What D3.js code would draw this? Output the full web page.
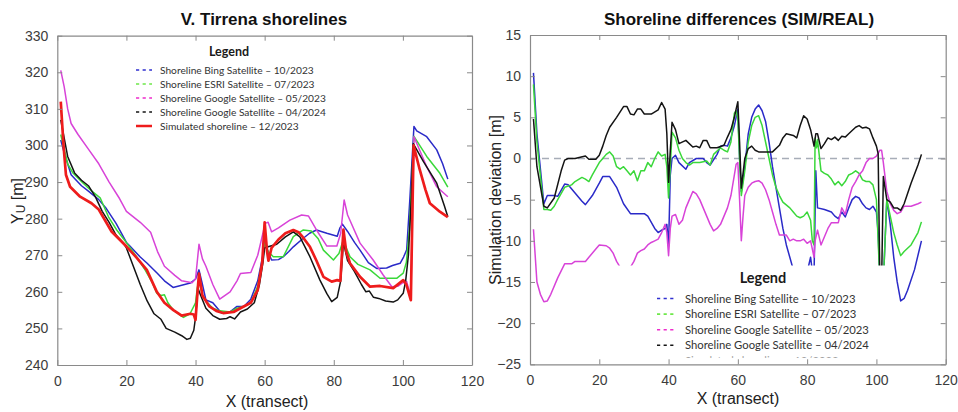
<!DOCTYPE html>
<html>
<head>
<meta charset="utf-8">
<script src="https://cdn.jsdelivr.net/npm/d3@7"></script>
<style>
  html, body { margin: 0; padding: 0; background: #fff; }
  svg { display: block; font-family: "Liberation Sans", Arial, sans-serif; }
</style>
</head>
<body>
<svg id="fig" width="958" height="412"></svg>
<script>
// ---------- shoreline positions Yu [m] along transects ----------
const bingShore = [[1,301.5],[2,298],[4,292],[5,291],[7,289],[9,287.5],[12,285.2],[14,283],[17,278.7],[20,273.5],[21,272.5],[24,269.5],[26,267.8],[29,265],[31,263],[33.5,261.2],[36,261.8],[38.5,262.4],[40,263.5],[41,266],[42,262],[43,257.8],[45,257],[47.5,254.2],[50,254.5],[52,256],[54,256],[56,258],[58,263],[59.5,270],[60,274],[60.6,271.9],[62,268.7],[64,268.8],[65.4,269.6],[67,271],[68.3,272.3],[71,274.5],[73,276],[75,276.9],[78,276],[81,275.2],[81.8,277.5],[82.5,278.5],[84,276.5],[86,273.5],[87.6,271.4],[90,268],[92.4,266.4],[95.3,266.5],[97,267.2],[99.2,267.8],[100.2,269.5],[101.1,271.5],[102,285],[103.2,305.2],[104,304],[106.9,302.4],[109.8,298.8],[111.5,295],[113,290.8]];
const esriShore = [[1,303],[2,299],[3,295],[4.6,292.4],[7.5,289.7],[10,287.5],[12.4,285.7],[14.8,280.5],[17.2,276.9],[20.1,273.3],[23,269.5],[25.4,266],[27.5,262.5],[28.8,259.6],[30,259],[31,259.2],[32,257],[33.6,255],[35,254],[36.5,253],[38.4,254],[40,257],[40.5,261],[41,263.2],[42,259],[43,257.5],[45,255.5],[47,254.8],[50,254.5],[52,255.5],[54,256],[56,257],[58,261.5],[59.5,269],[60,273.5],[61,271],[62.5,269.6],[65.4,269.6],[68.3,275.1],[71.2,276.9],[73.5,276.6],[75.5,274.5],[77,271.4],[79.9,268.7],[81.5,270.5],[82.7,274],[84.7,269.6],[87,267.5],[90.5,266],[93.4,263.7],[98.2,263.7],[100.1,265.1],[101,268],[101.9,277],[103.2,302.5],[106.9,297],[110.7,292.4],[113,288.6]];
const google2305Shore = [[1,320.5],[2,316],[3,310],[4,306],[6,303],[9,299],[12,295],[15,290],[18,285.5],[20,282],[24,279],[27,276.3],[29,271],[31,267],[34,264.5],[36,263],[39,262.5],[40,263.5],[41,273],[42,269],[43,267],[45,262],[47,258],[50,260],[52,263],[53,265],[56,265.3],[58,270],[59.5,276],[60.1,278.7],[61,279],[62,276.4],[64,277.5],[67.3,279.6],[70.7,281],[72.7,280.7],[75,276.9],[78,272.5],[80.9,272.5],[82,276],[83,285.1],[84,281],[87.6,273.3],[91.4,268.7],[94.3,264.6],[96.8,261.4],[98.5,261.5],[100,262.5],[101.1,262.8],[102.3,258.7],[103.2,302.4],[106.9,294.2],[109.8,288.7],[113,286]];
const google2404Shore = [[1,307],[2,302],[3,297],[5,292.5],[7,290.5],[9,289],[11,286],[13,282],[15,279],[17,275.5],[19,273.5],[20,272],[22,267],[24,262],[26,257.5],[28,254],[30,252.5],[31.5,250],[34,249],[36,248],[37.5,247],[38.5,247.3],[39.5,249.5],[40,253],[40.7,261],[41.5,259],[43,255.5],[45,253.5],[47,252.5],[49,252.7],[50,253.2],[51.3,252.6],[53,254.5],[55,255.3],[57,257],[58.5,262],[59.5,268],[60,272],[61,272.3],[63.5,273],[66,275],[68.3,276.4],[70.2,275],[73.1,269.6],[76,263.2],[78,259.5],[79.4,257.3],[81,258.5],[82,263],[82.8,273.5],[84,268.5],[86,265.5],[88,262],[89.3,260],[90.3,260.2],[91.5,258.5],[93,258.2],[95,257.5],[97.2,257.2],[98.5,257.8],[100.1,259.6],[100.8,263],[101.6,270],[102.4,285],[103,300.5],[106,295.5],[109.8,289.7],[112,283.5],[113,280.5]];
const simulatedShore = [[1,312],[1.8,300],[2.5,292],[3.7,288.7],[6.6,286],[9.9,284.2],[12,282.5],[15.7,276.5],[20.1,272.3],[23,269.3],[25.9,266],[28.8,260],[31,257],[33.6,255],[36,253.5],[38.5,254],[39.5,253.8],[40,252.3],[40.5,259],[41,265],[42,259],[44,256],[46,254.8],[48,254.2],[51,254.5],[53,255.5],[56,257],[58,260.5],[59.3,268],[60,279],[60.7,271],[61.1,268.5],[62,272],[64,274.3],[66,276],[68.3,276.9],[69.8,276.3],[71,275],[73.1,272.3],[75,268.5],[77,264.1],[79.4,262.8],[81,263.2],[81.9,263],[82.8,277],[83.6,271],[84.7,267.8],[87.6,264.1],[90.5,261.4],[93.4,261.6],[97.2,261],[100.1,263.2],[101,262],[102.3,257.7],[103.1,300],[104.9,293.3],[106.5,288],[107.8,284.2],[110.7,281.9],[113,280.4]];

// ---------- simulated minus observed [m] ----------
const bingDiff = [[1,10.4],[2,3],[4,-5.5],[5,-4.5],[7,-4.5],[8,-4.6],[10,-3.1],[11,-3.2],[13,-4.2],[15,-5.2],[16,-5.6],[18,-4.5],[20,-3],[21,-2.2],[23,-2.2],[25,-3.5],[27,-5.5],[29,-6.7],[31,-6.7],[33,-6.7],[34,-7],[36,-8.5],[37,-9],[38,-8.7],[39,-8.5],[39.5,-8],[40,-10.6],[40.5,-2],[41,0],[42,0.4],[43,-0.5],[45,-1.3],[46,-0.5],[48,0],[50,0],[51,-0.5],[52,-0.8],[54,0.5],[55,1.5],[56,1.6],[57,1.5],[58,2.5],[59,4],[60,6],[60.5,0],[61,-4],[62,-1],[63,3],[64,5],[65,6],[66,6.5],[67,5.8],[68,4.5],[69,2],[70,-1],[71,-3.5],[72,-6],[73,-8.5],[74,-10.5],[75,-12],[76,-13.5],[78,-14],[80,-13.8],[81,-12],[81.6,-14],[82,-14],[82.5,-1.5],[83,-6],[85,-6.2],[87,-6.5],[88,-7],[89,-7.3],[90,-6.5],[91,-7.1],[92,-6],[93,-5],[94,-4.6],[95,-4.8],[96,-5.5],[97,-6],[98,-6.2],[99,-5.8],[100,-6.5],[100.5,-9],[101,-15],[102,-15],[102.5,-10],[103,-5],[104,-8],[105,-12],[106,-15],[107,-17.3],[108,-17],[109,-16],[111,-13.5],[113,-10]];
const esriDiff = [[1,9],[2,2],[4,-6.2],[5,-6.2],[6,-6.3],[7,-5.8],[8,-5],[10,-3.5],[12,-3.2],[13,-2.8],[15,-2.3],[16,-2.5],[17,-2.8],[18,-2],[20,-0.5],[21,0],[22,0.5],[23,0.8],[24,0.3],[25,-1],[26,-1.3],[27,-1],[28,-1.5],[29,-2],[30,-1.5],[31,-2.7],[32,-1.5],[33,-1.5],[34,-0.5],[35,-1],[36,0],[37,0.8],[38,0.3],[39,0.5],[39.5,-1],[40,-4.8],[40.5,-1],[41,3.2],[42,2.5],[43,1],[44,0],[45,-0.5],[46,-0.8],[47,-0.5],[49,-0.5],[51,-0.3],[52,-0.8],[53,0.5],[55,1.3],[56,1],[57,0.8],[58,2],[59,5.5],[59.5,5.8],[60,4.8],[60.5,0],[61,-4.5],[62,-1.5],[63,2],[64,4],[65,5],[66,5.2],[67,4],[68,2],[69,0],[70,-2],[71,-3.5],[72,-4.5],[73,-5.3],[75,-6],[76,-6.5],[77,-7],[78,-7.2],[79,-7],[80,-6.5],[81,-7.5],[81.5,-10],[82,-10.5],[82.3,2.5],[82.7,1.3],[83,2.3],[84,-1.5],[85,-1.8],[86,-2],[87,-2.5],[88,-3.2],[89,-2.8],[90,-3.3],[91,-2.8],[92,-2],[93,-1.8],[94,-1.5],[95,-1.8],[96,-2.6],[97,-2.8],[98,-2.8],[99,-3.2],[100,-5],[100.5,-10],[101,-15],[102,-15],[102.5,-10],[103,-5],[104,-7],[105,-9],[106,-10.5],[107,-11.8],[108,-11.3],[110,-10.5],[112,-9],[113,-7.7]];
const google2305Diff = [[1,-8.6],[2,-15],[3,-16.5],[4,-17.4],[5,-17.3],[6,-16.5],[8,-14.5],[10,-12.8],[12,-12.8],[13,-12.5],[15,-12.5],[16,-12.5],[17,-12],[19,-11],[20,-10.5],[22,-10.6],[23,-10.9],[24,-11.5],[25,-12.5],[26,-13.2],[27,-14],[28,-14],[29,-13.2],[30,-12.5],[31,-11.5],[32,-11.2],[33,-11],[34,-10.5],[35,-10.2],[36,-10],[37,-9.8],[38,-9],[38.5,-8.5],[39,-8],[39.5,-9],[40,-11.8],[40.5,-8.5],[41,-7],[42,-6.8],[43,-8],[44,-7.5],[45,-6],[46,-5],[47,-4],[48,-4.3],[49,-5],[50,-6],[51,-7],[52,-8],[53,-8.8],[54,-8.5],[55,-8],[56,-7],[57,-6],[58,-4.5],[59,-2],[59.5,-0.7],[60,-0.5],[60.5,-5],[61,-10],[61.5,-7],[62,-4.5],[63,-3.5],[64,-3],[65,-2.8],[66,-2.7],[67,-3],[68,-3.8],[69,-5],[70,-6.5],[71,-8],[72,-9.3],[74,-9.3],[75,-10],[76,-9.8],[77,-10],[78,-10],[79,-9.8],[80,-10.3],[81,-10],[82,-12],[82.3,-10],[83,-8.7],[84,-10.5],[85,-9.5],[86,-8.5],[87,-7.8],[89,-7.8],[90,-6],[91,-6.8],[92,-5],[93,-3.5],[94,-2.8],[95,-2],[96,-1.5],[97,-0.5],[98,0],[99,0],[100,0.3],[101,1],[101.5,1],[102,-0.5],[103,-4],[104,-5.5],[105,-6.3],[106,-6.7],[107,-6.5],[108,-5.8],[110,-5.8],[112,-5.5],[113,-5.3]];
const google2404Diff = [[1,4.8],[2,-1],[4,-5.8],[5,-6],[7,-4.8],[9,-1.5],[10,-0.2],[11,0],[13,0],[16,0.3],[17,-0.1],[19,-0.1],[20,0.4],[21,1.5],[22,2.8],[23,3.8],[25,5],[27,6.3],[28,6.3],[29,5.4],[30,5.3],[31,6],[32,6],[33,5.4],[35,5.4],[37,5.9],[38,6.8],[39,6],[39.5,3],[40,-2.9],[40.5,1],[41,4.4],[42,3.5],[43,1.8],[45,2.2],[47,1.4],[48,1.5],[49,1.3],[50,2.2],[51,2.2],[52,1.3],[54,1.3],[56,1.6],[57,2.6],[58,3.5],[59,5],[59.5,6],[60,6.9],[60.5,2],[61,-3.6],[62,0],[63,1.2],[64,1.5],[65,1],[66,0.8],[68,0.8],[70,0.8],[72,1.6],[73,2.5],[74,3],[76,2.8],[77,2.5],[78,4],[79,5.2],[80,4.8],[81,3.5],[82,1.5],[82.5,3],[83,3],[84,1.2],[85,1.8],[86,2.5],[87,2.3],[88,2.6],[89,2.2],[90,2.7],[91,2.6],[92,3],[94,3.8],[95,4],[96,3.7],[97,3.8],[98,3.6],[99,2.5],[100,1.5],[100.5,0.6],[101,-15],[101.5,-15],[102,-2.2],[103,-5],[104,-5.3],[105,-6],[106,-6],[107,-6.3],[108,-5.5],[110,-3],[112,-0.8],[113,0.5]];

// ---------- axes and labels ----------
const xTicks = [0, 20, 40, 60, 80, 100, 120];
const shoreTicks = [240, 250, 260, 270, 280, 290, 300, 310, 320, 330];
const diffTicks = [-25, -20, -15, -10, -5, 0, 5, 10, 15];
const seriesNames = [
  "Shoreline Bing Satellite \u2013 10/2023",
  "Shoreline ESRI Satellite \u2013 07/2023",
  "Shoreline Google Satellite \u2013 05/2023",
  "Shoreline Google Satellite \u2013 04/2024",
  "Simulated shoreline \u2013 12/2023"
];
const seriesColors = ["#2a2ac8", "#3ad83a", "#d843d8", "#141414", "#ee1c1c"];
const legendColors = ["#3030d0", "#6ee84a", "#ee2ccc", "#141414", "#ee1c1c"];

const svg = d3.select("#fig");
svg.append("rect").attr("width", 958).attr("height", 412).attr("fill", "#fff");

const frameColor = "#8a8a8a";
const labelColor = "#3c3c3c";

function drawFrame(g, x, y, xt, yt) {
  const [x0, x1] = x.range();
  const [y0, y1] = y.range();
  const ax = [
    { a: d3.axisBottom(x).tickValues(xt).tickSize(-5).tickSizeOuter(0).tickPadding(11), t: `translate(0,${y0})` },
    { a: d3.axisTop(x).tickValues(xt).tickSize(-5).tickSizeOuter(0).tickFormat(""), t: `translate(0,${y1})` },
    { a: d3.axisLeft(y).tickValues(yt).tickSize(-5).tickSizeOuter(0).tickPadding(9), t: `translate(${x0},0)` },
    { a: d3.axisRight(y).tickValues(yt).tickSize(-5).tickSizeOuter(0).tickFormat(""), t: `translate(${x1},0)` }
  ];
  ax.forEach(d => {
    const ag = g.append("g").attr("transform", d.t).call(d.a);
    ag.select(".domain").attr("stroke", frameColor).attr("stroke-width", 1.2);
    ag.selectAll(".tick line").attr("stroke", frameColor).attr("stroke-width", 1);
    ag.selectAll(".tick text").attr("fill", labelColor)
      .style("font-size", "14px").style("font-family", "'Liberation Sans', Arial, sans-serif");
  });
}

function drawLegend(g, cx, titleY, firstRow, rowGap, sampleX, textX, fontSize, titleSize, dashed) {
  g.append("text").attr("x", cx).attr("y", titleY).attr("text-anchor", "middle")
    .style("font-family", "Lato, 'Liberation Sans', sans-serif")
    .style("font-weight", "bold").style("font-size", titleSize + "px").attr("fill", "#1a1a1a").text("Legend");
  seriesNames.forEach((name, i) => {
    const yy = firstRow + rowGap * i;
    const solid = !dashed[i];
    g.append("line").attr("x1", sampleX[0]).attr("x2", sampleX[1]).attr("y1", yy).attr("y2", yy)
      .attr("stroke", legendColors[i]).attr("stroke-width", solid ? 2.5 : 1.6)
      .attr("stroke-dasharray", solid ? null : "3.2,3.4");
    g.append("text").attr("x", textX).attr("y", yy + fontSize * 0.36)
      .style("font-family", "Lato, 'Liberation Sans', sans-serif")
      .style("font-size", fontSize + "px").attr("fill", "#333").text(name);
  });
}

// ================= left panel: shorelines =================
{
  const x = d3.scaleLinear().domain([0, 120]).range([57.3, 472]);
  const y = d3.scaleLinear().domain([240, 330]).range([365, 35.7]);
  const g = svg.append("g");
  const line = d3.line().x(d => x(d[0])).y(d => y(d[1]));

  const shoreSeries = [bingShore, esriShore, google2305Shore, google2404Shore, simulatedShore];
  shoreSeries.forEach((s, i) => {
    g.append("path").datum(s).attr("d", line).attr("fill", "none")
      .attr("stroke", seriesColors[i]).attr("stroke-width", i === 4 ? 2.7 : 1.5)
      .attr("stroke-linejoin", "round");
  });

  drawFrame(g, x, y, xTicks, shoreTicks);

  g.append("text").attr("x", 264).attr("y", 25).attr("text-anchor", "middle")
    .style("font-weight", "bold").style("font-size", "17px").attr("fill", "#111")
    .text("V. Tirrena shorelines");
  g.append("text").attr("x", 267).attr("y", 407).attr("text-anchor", "middle")
    .style("font-size", "16px").attr("fill", "#222").text("X (transect)");
  const yl = g.append("text").attr("transform", "translate(23,201) rotate(-90)")
    .attr("text-anchor", "middle").style("font-size", "16px").attr("fill", "#222");
  yl.append("tspan").text("Y");
  yl.append("tspan").attr("dy", 2).style("font-size", "12px").text("U");
  yl.append("tspan").attr("dy", -2).text(" [m]");

  drawLegend(g.append("g"), 229, 56, 70, 14, [136, 152], 160, 10.2, 12.5, [true, true, true, true, false]);
}

// ================= right panel: differences =================
{
  const x = d3.scaleLinear().domain([0, 120]).range([530, 945.7]);
  const y = d3.scaleLinear().domain([-25, 15]).range([364.3, 35]);
  const g = svg.append("g");
  const line = d3.line().x(d => x(d[0])).y(d => y(d[1]));

  // the legend panel is cut just above the lower frame, hiding most of its last row
  svg.append("defs").append("clipPath").attr("id", "diffClip")
    .append("rect").attr("x", x(0)).attr("y", y(15)).attr("width", x(120) - x(0)).attr("height", 323);

  g.append("line").attr("x1", x(0)).attr("x2", x(120)).attr("y1", y(0)).attr("y2", y(0))
    .attr("stroke", "#a7adb8").attr("stroke-width", 1.3).attr("stroke-dasharray", "7,5");

  const diffSeries = [bingDiff, esriDiff, google2305Diff, google2404Diff];
  diffSeries.forEach((s, i) => {
    g.append("path").datum(s).attr("d", line).attr("fill", "none")
      .attr("stroke", seriesColors[i]).attr("stroke-width", 1.5)
      .attr("stroke-linejoin", "round");
  });

  // legend sits on an opaque panel that masks the curves beneath it
  const lg = g.append("g").attr("clip-path", "url(#diffClip)");
  lg.append("rect").attr("x", x(24.8)).attr("y", y(-13)).attr("width", x(103.8) - x(24.8)).attr("height", 120)
    .attr("fill", "#fff");
  drawLegend(lg, 763, 283, 298.5, 15.6, [657, 675], 685, 11.3, 14.5, [true, true, true, true, true]);
  lg.selectAll("text").filter((d, i, n) => i === n.length - 1).attr("opacity", 0.45);

  drawFrame(g, x, y, xTicks, diffTicks);

  g.append("text").attr("x", 739).attr("y", 25).attr("text-anchor", "middle")
    .style("font-weight", "bold").style("font-size", "17px").attr("fill", "#111")
    .text("Shoreline differences (SIM/REAL)");
  g.append("text").attr("x", 738).attr("y", 404).attr("text-anchor", "middle")
    .style("font-size", "16px").attr("fill", "#222").text("X (transect)");
  g.append("text").attr("transform", "translate(501,200) rotate(-90)")
    .attr("text-anchor", "middle").style("font-size", "16px").attr("fill", "#222")
    .text("Simulation deviation [m]");
}
</script>
</body>
</html>
